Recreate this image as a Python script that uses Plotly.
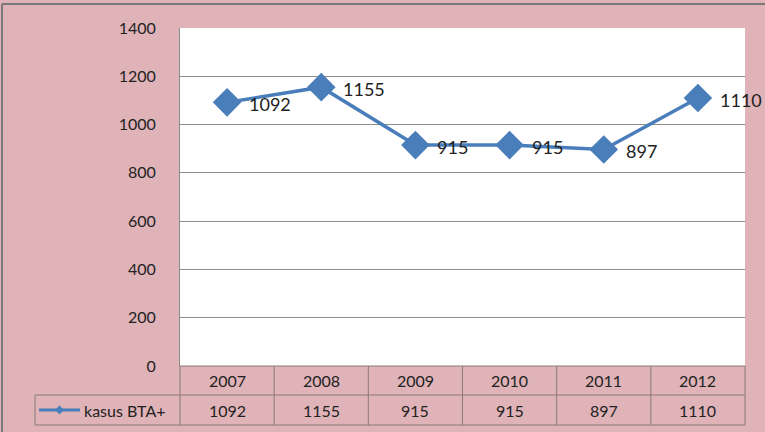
import plotly.graph_objects as go

years = ["2007", "2008", "2009", "2010", "2011", "2012"]
kasus_bta = [1092, 1155, 915, 915, 897, 1110]
series_name = "kasus BTA+"
y_ticks = [0, 200, 400, 600, 800, 1000, 1200, 1400]

W, H = 765, 432
PL, PR, PT, PB = 180, 745, 28, 366
ROW1_B, ROW2_B = 395, 425
LEG_L = 35

def px(x):
    return x / W

def py(y):
    return (H - y) / H

BLUE = "#4a7ebb"
GRID = "#8c8c8c"
BG = "#dfb3b8"
FONT = "Lato, 'Open Sans', sans-serif"
TXT = "#222"

xs = list(range(len(years)))
fig = go.Figure()
fig.add_trace(go.Scatter(
    x=xs, y=kasus_bta, mode="lines+markers",
    line=dict(color=BLUE, width=3.5),
    marker=dict(symbol="diamond", size=22, color=BLUE),
    cliponaxis=False, showlegend=False, name=series_name,
))

shapes = []
line_style = dict(color="#8a7a7c", width=1)
shapes.append(dict(type="line", xref="paper", yref="paper", x0=px(PL), x1=px(PR), y0=py(PB), y1=py(PB), line=line_style))
shapes.append(dict(type="line", xref="paper", yref="paper", x0=px(LEG_L), x1=px(PR), y0=py(ROW1_B), y1=py(ROW1_B), line=line_style))
shapes.append(dict(type="line", xref="paper", yref="paper", x0=px(LEG_L), x1=px(PR), y0=py(ROW2_B), y1=py(ROW2_B), line=line_style))
shapes.append(dict(type="line", xref="paper", yref="paper", x0=px(LEG_L), x1=px(LEG_L), y0=py(ROW1_B), y1=py(ROW2_B), line=line_style))
for i in range(len(years) + 1):
    xp = PL + (PR - PL) * i / len(years)
    shapes.append(dict(type="line", xref="paper", yref="paper", x0=px(xp), x1=px(xp), y0=py(PB), y1=py(ROW2_B), line=line_style))
ky = (ROW1_B + ROW2_B) / 2
shapes.append(dict(type="line", xref="paper", yref="paper", x0=px(39), x1=px(80), y0=py(ky), y1=py(ky), line=dict(color=BLUE, width=3)))
cx, d = 59.5, 4.5
shapes.append(dict(type="path", xref="paper", yref="paper",
                   path=f"M {px(cx-d)},{py(ky)} L {px(cx)},{py(ky-d)} L {px(cx+d)},{py(ky)} L {px(cx)},{py(ky+d)} Z",
                   fillcolor=BLUE, line=dict(color=BLUE, width=0)))
shapes.append(dict(type="line", xref="paper", yref="paper", x0=px(2), x1=1, y0=py(4), y1=py(4), line=dict(color="#7a7a7a", width=2)))
shapes.append(dict(type="line", xref="paper", yref="paper", x0=px(2), x1=px(2), y0=py(4), y1=0, line=dict(color="#7a7a7a", width=2)))

annotations = []
# data labels
for x, v in zip(xs, kasus_bta):
    annotations.append(dict(x=x, y=v, xref="x", yref="y", text=str(v), xanchor="left", yanchor="middle",
                            xshift=20, yshift=-2, showarrow=False,
                            font=dict(size=18, color=TXT, family=FONT)))
for i, (yr, v) in enumerate(zip(years, kasus_bta)):
    cxp = PL + (PR - PL) * (i + 0.5) / len(years)
    annotations.append(dict(x=px(cxp), y=py((PB + ROW1_B) / 2), xref="paper", yref="paper", text=yr,
                            xanchor="center", yanchor="middle",
                            showarrow=False, font=dict(size=16, color=TXT, family=FONT)))
    annotations.append(dict(x=px(cxp), y=py(ky), xref="paper", yref="paper", text=str(v),
                            xanchor="center", yanchor="middle",
                            showarrow=False, font=dict(size=16, color=TXT, family=FONT)))
annotations.append(dict(x=px(82), y=py(ky), xref="paper", yref="paper", text=series_name,
                        xanchor="left", yanchor="middle",
                        showarrow=False, font=dict(size=16, color=TXT, family=FONT)))

fig.update_layout(
    width=W, height=H, margin=dict(l=0, r=0, t=0, b=0, autoexpand=False),
    paper_bgcolor=BG, plot_bgcolor="white",
    shapes=shapes, annotations=annotations,
    xaxis=dict(domain=[px(PL), px(PR)], range=[-0.5, 5.5], showticklabels=False, showgrid=False,
               zeroline=False, fixedrange=True, automargin=False),
    yaxis=dict(domain=[py(PB), py(PT)], range=[0, 1400], tickvals=y_ticks, showgrid=True, gridcolor=GRID,
               gridwidth=1, zeroline=False, showline=True, linecolor=GRID, linewidth=1,
               ticks="", ticklabelstandoff=20, automargin=False,
               tickfont=dict(size=16, color=TXT, family=FONT)),
    font=dict(family=FONT),
)

fig.write_html("out.html")
